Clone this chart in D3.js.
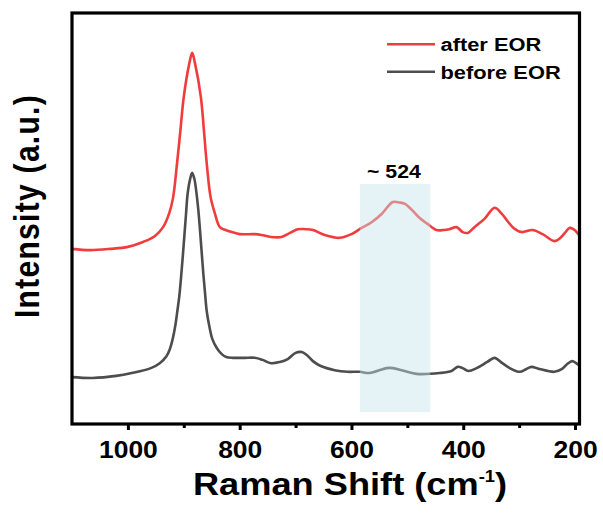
<!DOCTYPE html>
<html>
<head>
<meta charset="utf-8">
<script src="https://cdn.jsdelivr.net/npm/d3@7"></script>
<style>
  html, body { margin: 0; padding: 0; background: #fff; }
  svg { display: block; }
  text { font-family: "Liberation Sans", Arial, sans-serif; font-weight: bold; fill: #000; }
</style>
</head>
<body>
<svg id="chart" width="603" height="513"></svg>
<script>
// Raman spectra: [wavenumber (cm^-1), intensity (a.u.)]
const afterEOR = [
  [1100, 42.6], [1068, 42.3], [1032, 42.6], [1000, 43.1], [973, 44.3], [952, 45.7],
  [937, 47.9], [926, 51.3], [919, 55.2], [912, 63.5], [906, 71.5], [900, 79.6],
  [890, 87.8], [885, 90.3], [880, 87.8], [869.5, 79.6], [864, 71.5], [859, 63.5],
  [852, 55.2], [844.5, 51.3], [835.5, 47.9], [825, 47.2], [814, 46.7], [800, 46.2],
  [773, 46.2], [761, 46.0], [744, 45.5], [725, 45.5], [710, 46.5], [696, 47.4],
  [682, 47.4], [669, 47.2], [648, 46.0], [621, 45.3], [600, 46.2], [582, 47.7],
  [564, 49.1], [546, 51.1], [526, 54.0], [514, 53.9], [505, 53.6], [492, 52.1],
  [478, 50.1], [464, 48.7], [448, 47.2], [435, 47.2], [425, 47.4], [412, 47.9],
  [401, 46.7], [392, 46.5], [380, 47.9], [362, 49.9], [344, 52.6], [332, 51.3],
  [321, 49.4], [310, 47.7], [296, 46.7], [276, 47.2], [258, 46.2], [237, 44.5],
  [226, 45.3], [217, 46.7], [210, 47.7], [203, 47.4], [194, 46.2]
];

const beforeEOR = [
  [1100, 11.4], [1063, 11.2], [1021, 11.7], [993, 12.4], [959, 13.6], [943, 14.8],
  [931, 16.5], [925, 18.2], [919.5, 20.9], [915, 24.1], [911.5, 27.5], [908, 31.1],
  [905, 35.5], [902, 40.4], [899, 45.7], [896, 51.1], [893, 56.2], [889, 59.4],
  [885, 61.1], [881, 59.6], [877.5, 56.4], [874, 52.1], [871, 47.2], [868, 41.8],
  [865, 36.5], [862, 31.9], [859, 27.5], [854, 23.6], [849, 20.7], [841, 18.5],
  [832, 17.0], [824, 16.3], [812, 16.1], [791, 16.1], [773, 16.1], [759, 15.6],
  [744, 14.8], [728, 15.1], [714, 15.8], [700, 17.3], [689, 17.5], [680, 16.8],
  [669, 15.3], [655, 14.1], [630, 13.1], [607, 12.7], [585, 12.7], [568, 12.4],
  [537, 13.6], [526, 13.6], [510, 13.1], [484, 12.2], [442, 12.4], [421, 12.9],
  [410, 13.9], [401, 13.6], [391, 12.9], [376, 13.6], [357, 15.1], [344, 16.1],
  [330, 14.8], [314, 13.4], [299, 12.7], [287, 13.4], [278, 13.9], [264, 13.4],
  [237, 12.7], [223, 13.4], [214, 14.6], [205, 15.3], [198, 14.8], [194, 14.4]
];

const seriesNames = ["after EOR", "before EOR"];
const seriesColors = ["#f03c3c", "#4d4d4d"];

const majorTicks = [1000, 800, 600, 400, 200];
const minorTicks = [900, 700, 500, 300];

// highlighted band around the ~524 cm^-1 feature
const bandShift = [585, 459];
const bandIntensity = [2.9, 58.4];
const bandLabel = "~ 524";
const bandLabelAt = 524;

const xDomain = [1100, 192];
const yDomain = [0, 100];

const svg = d3.select("#chart");
const plotLeft = 72, plotRight = 579.5, plotTop = 13, plotBottom = 424;
const stretch = "scale(1.15,1)";

const x = d3.scaleLinear().domain(xDomain).range([plotLeft, plotRight]);
const y = d3.scaleLinear().domain(yDomain).range([plotBottom, plotTop]);

const line = d3.line()
  .x(d => x(d[0]))
  .y(d => y(d[1]))
  .curve(d3.curveCatmullRom.alpha(0.5));

// spectra
[afterEOR, beforeEOR].forEach((data, i) => {
  svg.append("path")
    .datum(data)
    .attr("d", line)
    .attr("fill", "none")
    .attr("stroke", seriesColors[i])
    .attr("stroke-width", 2.6)
    .attr("stroke-linejoin", "round")
    .attr("stroke-linecap", "round");
});

// translucent band laid over the spectra
svg.append("rect")
  .attr("x", x(bandShift[0]))
  .attr("width", x(bandShift[1]) - x(bandShift[0]))
  .attr("y", y(bandIntensity[1]))
  .attr("height", y(bandIntensity[0]) - y(bandIntensity[1]))
  .attr("fill", "rgb(200,228,235)")
  .attr("fill-opacity", 0.45);

svg.append("text")
  .attr("transform", `translate(${x(bandLabelAt)},178) ${stretch}`)
  .attr("text-anchor", "middle")
  .style("font-size", "18.5px")
  .text(bandLabel);

// bottom axis: major ticks with labels, minor ticks without
const axisMajor = d3.axisBottom(x).tickValues(majorTicks).tickSize(6).tickFormat(d3.format("d"));
const gx = svg.append("g").attr("transform", `translate(0,${plotBottom})`).call(axisMajor);
gx.select(".domain").remove();
gx.selectAll(".tick line").attr("stroke", "#000").attr("stroke-width", 3);
gx.selectAll(".tick text")
  .attr("y", 34).attr("dy", null)
  .attr("transform", stretch)
  .style("font-size", "23px");
gx.attr("font-family", null).attr("font-size", null);

const axisMinor = d3.axisBottom(x).tickValues(minorTicks).tickSize(4).tickFormat("");
const gm = svg.append("g").attr("transform", `translate(0,${plotBottom})`).call(axisMinor);
gm.select(".domain").remove();
gm.selectAll(".tick line").attr("stroke", "#000").attr("stroke-width", 3);

// frame
svg.append("rect")
  .attr("x", plotLeft).attr("y", plotTop)
  .attr("width", plotRight - plotLeft).attr("height", plotBottom - plotTop)
  .attr("fill", "none").attr("stroke", "#000").attr("stroke-width", 3.2);

// axis titles
const xt = svg.append("text")
  .attr("transform", `translate(350,495) ${stretch}`)
  .attr("text-anchor", "middle")
  .style("font-size", "31.5px");
xt.append("tspan").text("Raman Shift (cm");
xt.append("tspan").attr("dy", -13).style("font-size", "16px").text("-1");
xt.append("tspan").attr("dy", 13).text(")");

svg.append("text")
  .attr("transform", `translate(39,206) ${stretch} rotate(-90)`)
  .attr("text-anchor", "middle")
  .style("font-size", "30px")
  .style("letter-spacing", "1.3px")
  .text("Intensity (a.u.)");

// legend
const legendY = [44.3, 71.7];
seriesNames.forEach((name, i) => {
  svg.append("line")
    .attr("x1", 387).attr("x2", 435)
    .attr("y1", legendY[i]).attr("y2", legendY[i])
    .attr("stroke", seriesColors[i]).attr("stroke-width", 2.6);
  svg.append("text")
    .attr("transform", `translate(440.5,${legendY[i] + 7}) ${stretch}`)
    .style("font-size", "19px")
    .text(name);
});
</script>
</body>
</html>
